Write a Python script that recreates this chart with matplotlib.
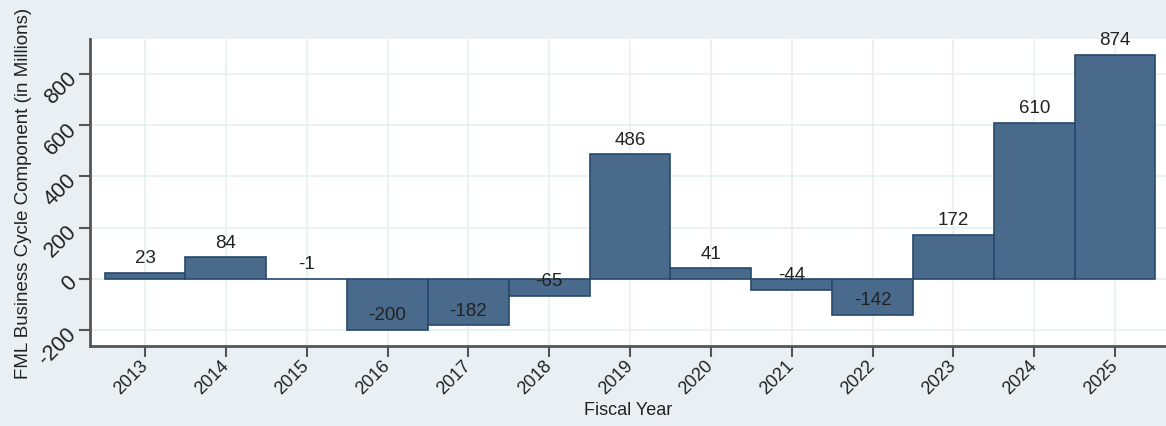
import numpy as np
import matplotlib.pyplot as plt

# Fiscal years and FML business cycle component (in millions)
years = [2013, 2014, 2015, 2016, 2017, 2018, 2019, 2020, 2021, 2022, 2023, 2024, 2025]
values = [23, 84, -1, -200, -182, -65, 486, 41, -44, -142, 172, 610, 874]
yticks = [-200, 0, 200, 400, 600, 800]

bg = '#e9eff2'
bar_fill = '#4a6a8b'
bar_edge = '#27496b'
axis_col = '#555555'

plt.rcParams['font.family'] = ['Liberation Sans', 'DejaVu Sans']

fig = plt.figure(figsize=(11.66, 4.27), dpi=100, facecolor=bg)
ax = fig.add_axes([0.0772, 0.1874, 0.9228, 0.7189])
ax.set_facecolor('white')

ax.bar(years, values, width=1.0, color=bar_fill, edgecolor=bar_edge, linewidth=1.2, zorder=3)

# value labels sit a fixed distance above each bar end
for x, v in zip(years, values):
    ax.text(x, v + 60, str(v), ha='center', va='center', fontsize=13.5, color='#222222', zorder=4)

ax.set_xlim(2012.32, 2025.63)
ax.set_ylim(-262, 937)
ax.set_xticks(years)
ax.set_xticklabels([str(y) for y in years], rotation=45, ha='right', va='center',
                   rotation_mode='anchor', fontsize=13, color='#222222')
ax.set_yticks(yticks)
ax.set_yticklabels([str(t) for t in yticks], rotation=45, ha='right', va='center',
                   rotation_mode='anchor', fontsize=15.5, color='#222222')

ax.grid(True, color='#e6f0f1', linewidth=1.2, zorder=0)
ax.set_axisbelow(True)

for side in ['top', 'right']:
    ax.spines[side].set_visible(False)
for side in ['left', 'bottom']:
    ax.spines[side].set_color(axis_col)
    ax.spines[side].set_linewidth(2)
ax.tick_params(axis='both', length=8, width=1.5, color=axis_col, pad=4)

ax.set_xlabel('Fiscal Year', fontsize=13, color='#222222', labelpad=3)
ax.set_ylabel('FML Business Cycle Component (in Millions)', fontsize=13.5, color='#222222', labelpad=2)

fig.savefig('out.png', dpi=100, facecolor=bg)
